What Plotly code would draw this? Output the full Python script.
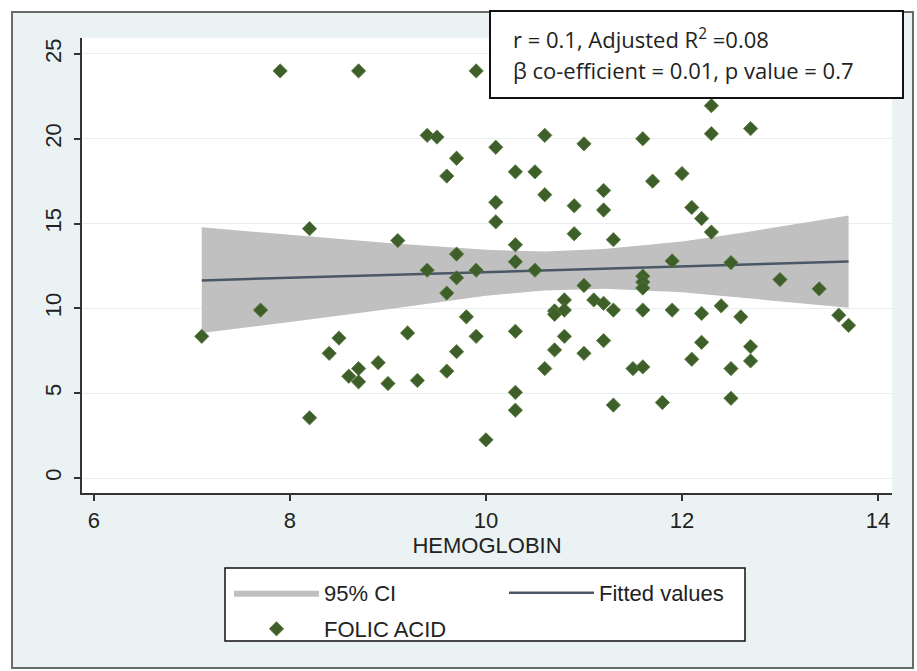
import plotly.graph_objects as go

# ---- data ----
hemoglobin = [7.9, 8.7, 8.2, 9.1, 7.7, 7.1, 9.2, 8.5, 8.4, 8.9, 8.7, 8.6, 8.7, 9.0, 8.2,
              9.9, 9.4, 9.5, 10.1, 10.6, 11.0, 9.7, 9.6, 10.3, 10.5, 10.6, 10.1, 10.1, 10.9,
              11.2, 11.2, 10.9, 11.3, 10.3, 9.7, 10.3, 9.4, 9.9, 10.5, 9.7, 9.6, 11.0, 10.8,
              11.1, 11.2, 11.3, 10.7, 10.7, 10.8, 9.8, 9.9, 10.3, 10.8, 11.2, 9.7, 10.7, 11.0,
              9.6, 10.6, 9.3, 10.3, 10.3, 11.3, 10.0,
              12.3, 12.3, 12.7, 11.6, 11.7, 12.0, 12.1, 12.2, 12.3, 11.9, 12.5, 11.6, 11.6,
              11.6, 13.0, 13.4, 11.6, 11.9, 12.2, 12.4, 12.6, 13.6, 13.7, 12.2, 12.1, 12.7,
              12.7, 12.5, 11.5, 11.6, 11.8, 12.5]
folic_acid = [24.0, 24.0, 14.7, 14.0, 9.9, 8.35, 8.55, 8.25, 7.35, 6.8, 6.45, 6.0, 5.67, 5.57, 3.55,
              24.0, 20.2, 20.1, 19.5, 20.2, 19.7, 18.85, 17.8, 18.05, 18.05, 16.7, 16.25, 15.1, 16.05,
              16.95, 15.8, 14.4, 14.05, 13.75, 13.2, 12.75, 12.25, 12.25, 12.25, 11.8, 10.9, 11.35, 10.5,
              10.5, 10.3, 9.9, 9.85, 9.65, 9.9, 9.5, 8.35, 8.65, 8.35, 8.1, 7.45, 7.55, 7.35,
              6.3, 6.45, 5.75, 5.05, 4.0, 4.3, 2.25,
              21.95, 20.3, 20.6, 20.0, 17.5, 17.95, 15.95, 15.3, 14.5, 12.8, 12.7, 11.9, 11.55,
              11.2, 11.7, 11.15, 9.9, 9.9, 9.7, 10.15, 9.5, 9.6, 9.0, 8.0, 7.0, 7.75,
              6.9, 6.45, 6.45, 6.55, 4.45, 4.7]

ci_x = [7.1, 8.0, 9.0, 10.0, 10.6, 11.2, 12.0, 12.6, 13.7]
ci_upper = [14.78, 14.35, 13.85, 13.45, 13.36, 13.5, 13.95, 14.45, 15.47]
ci_lower = [8.55, 9.2, 9.95, 10.75, 11.05, 11.15, 10.95, 10.65, 10.04]

fit_x = [7.1, 13.7]
fit_y = [11.65, 12.76]

x_ticks = [6, 8, 10, 12, 14]
y_ticks = [0, 5, 10, 15, 20, 25]

stats_line1 = "r = 0.1, Adjusted R<sup>2</sup> =0.08"
stats_line2 = "β co-efficient = 0.01, p value = 0.7"

# ---- layout geometry (pixels) ----
W, H = 917, 671
L, R, T, B = 82, 25, 38, 178
PW, PH = W - L - R, H - T - B


def px(xp):
    return (xp - L) / PW


def py(yp):
    return (H - B - yp) / PH


TXT = "Liberation Sans, Arial, sans-serif"
STAT = "Open Sans, sans-serif"
GREEN = "#3f5f2a"

fig = go.Figure()

fig.add_trace(go.Scatter(
    x=ci_x + ci_x[::-1], y=ci_upper + ci_lower[::-1],
    fill="toself", fillcolor="#c0c0c0", line=dict(width=0, color="#c0c0c0"),
    mode="lines", name="95% CI", legend="legend", hoverinfo="skip"))

fig.add_trace(go.Scatter(
    x=fit_x, y=fit_y, mode="lines", name="Fitted values",
    line=dict(color="#4a5866", width=2.5), legend="legend"))

fig.add_trace(go.Scatter(
    x=hemoglobin, y=folic_acid, mode="markers", name="FOLIC ACID",
    marker=dict(symbol="diamond", size=11, color=GREEN,
                line=dict(width=0.8, color="#567a3a")),
    legend="legend2"))

shapes = [
    # graph region (light blue) with frame
    dict(type="rect", xref="paper", yref="paper", layer="below",
         x0=px(12), x1=px(913), y0=py(668), y1=py(12),
         fillcolor="#eaf2f3", line=dict(color="#6a6a6a", width=2)),
    # plot region white
    dict(type="rect", xref="paper", yref="paper", layer="below",
         x0=0, x1=1, y0=0, y1=1, fillcolor="white", line=dict(width=0)),
    # stats box
    dict(type="rect", xref="paper", yref="paper", layer="above",
         x0=px(490), x1=px(903), y0=py(98), y1=py(11),
         fillcolor="white", line=dict(color="#111", width=2)),
    # legend box
    dict(type="rect", xref="paper", yref="paper", layer="above",
         x0=px(225), x1=px(745), y0=py(641), y1=py(568),
         fillcolor="white", line=dict(color="#111", width=1.5)),
]

annotations = [
    dict(text=stats_line1, xref="paper", yref="paper", x=px(511), y=py(38),
         xanchor="left", yanchor="middle", showarrow=False,
         font=dict(family=STAT, size=22, color="#222")),
    dict(text=stats_line2, xref="paper", yref="paper", x=px(511), y=py(70),
         xanchor="left", yanchor="middle", showarrow=False,
         font=dict(family=STAT, size=22, color="#222")),
]

fig.update_layout(
    width=W, height=H,
    margin=dict(l=L, r=R, t=T, b=B),
    paper_bgcolor="white", plot_bgcolor="rgba(0,0,0,0)",
    font=dict(family=TXT, size=21, color="#222"),
    shapes=shapes, annotations=annotations,
    xaxis=dict(range=[5.878, 14.143], tickvals=x_ticks, showgrid=False, zeroline=False,
               showline=True, linecolor="#333", linewidth=2,
               ticks="outside", ticklen=6, tickwidth=1.5, tickcolor="#333",
               tickfont=dict(size=22), ticklabelstandoff=1,
               title=dict(text="HEMOGLOBIN", font=dict(size=22), standoff=0)),
    yaxis=dict(range=[-0.884, 25.94], tickvals=y_ticks, showgrid=True,
               gridcolor="#e8eef0", gridwidth=1, zeroline=False,
               showline=True, linecolor="#333", linewidth=2,
               ticks="outside", ticklen=6, tickwidth=1.5, tickcolor="#333",
               tickangle=-90, tickfont=dict(size=22), ticklabelstandoff=4),
    legend=dict(orientation="h", x=px(229), y=py(593), xanchor="left", yanchor="middle",
                bgcolor="rgba(0,0,0,0)", borderwidth=0, itemwidth=85,
                entrywidth=175, entrywidthmode="pixels",
                font=dict(family=TXT, size=22, color="#222")),
    legend2=dict(orientation="h", x=px(229), y=py(629), xanchor="left", yanchor="middle",
                 bgcolor="rgba(0,0,0,0)", borderwidth=0, itemwidth=85,
                 font=dict(family=TXT, size=22, color="#222")),
    showlegend=True,
)

fig.write_html("out.html", config={"displayModeBar": False},
               post_script="document.body.style.margin='0';")
